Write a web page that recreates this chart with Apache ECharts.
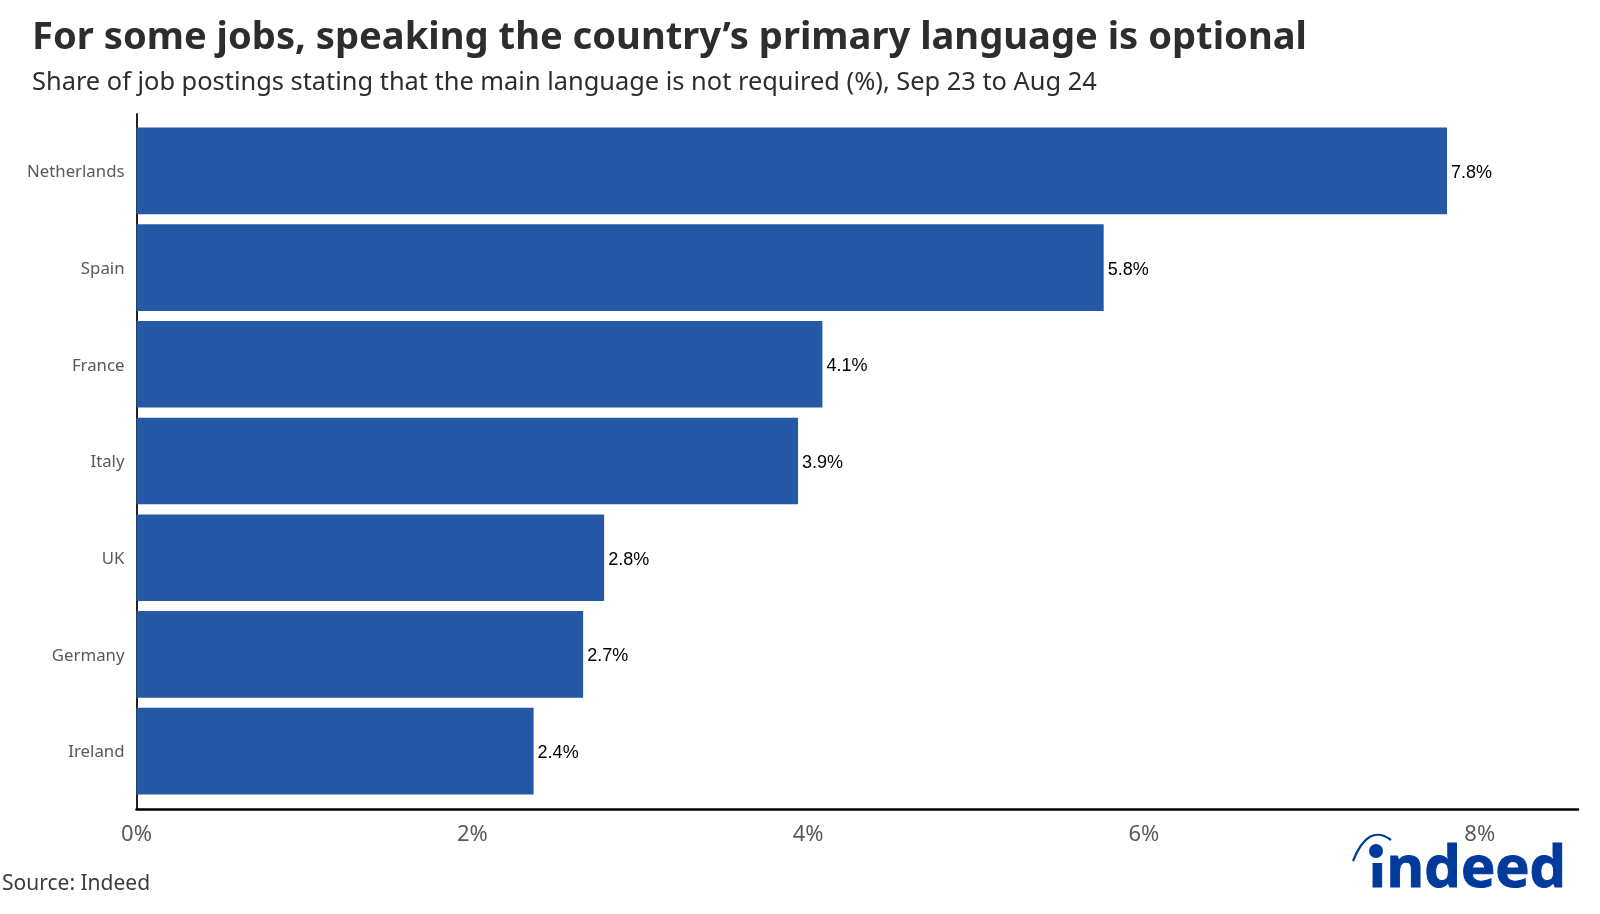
<!DOCTYPE html>
<html><head><meta charset="utf-8">
<style>html,body{margin:0;padding:0;background:#fff}#c{width:1600px;height:914px}</style>
<script src="https://cdn.jsdelivr.net/npm/echarts@6/dist/echarts.min.js"></script>
</head><body><div id="c"></div>
<script>
const titleText = "For some jobs, speaking the country’s primary language is optional";
const subtitleText = "Share of job postings stating that the main language is not required (%), Sep 23 to Aug 24";
const sourceText = "Source: Indeed";
const logoText = "indeed";
const categories = ["Netherlands","Spain","France","Italy","UK","Germany","Ireland"];
const shares = [7.805,5.76,4.085,3.94,2.785,2.66,2.365];
const xMax = 8.585;
const chart = echarts.init(document.getElementById('c'), null, {renderer:'canvas'});
const font = '"Noto Sans"';
chart.setOption({
  animation:false,
  backgroundColor:'#fff',
  title:[
    {text:titleText,left:32,top:12,padding:0,textStyle:{fontFamily:font,fontWeight:700,fontSize:38.15,color:'#2d2d2d',lineHeight:52}},
    {text:subtitleText,left:32,top:64.5,padding:0,textStyle:{fontFamily:font,fontWeight:400,fontSize:25.4,color:'#2d2d2d',lineHeight:36}},
    {text:sourceText,left:2,top:869,padding:0,textStyle:{fontFamily:font,fontWeight:400,fontSize:21,color:'#3c3c3c',lineHeight:30}}
  ],
  grid:[
    {left:136.5,top:122.5,width:1441.5,height:677},
    {left:136.5,top:114,width:1441.5,height:695}
  ],
  xAxis:[
    {type:'value',gridIndex:0,min:0,max:xMax,interval:2,splitLine:{show:false},axisLine:{show:false},axisTick:{show:false},
     axisLabel:{margin:24,fontFamily:font,fontSize:22,color:'#595959',formatter:v=>v+'%',showMaxLabel:false}},
    {type:'value',gridIndex:1,min:0,max:1,splitLine:{show:false},axisLabel:{show:false},axisTick:{show:false},
     axisLine:{show:true,onZero:false,lineStyle:{color:'#000',width:2.5}}}
  ],
  yAxis:[
    {type:'category',gridIndex:0,inverse:true,data:categories,axisLine:{show:false},axisTick:{show:false},
     axisLabel:{margin:12,formatter:v=>'{a|'+v+'}',
       rich:{a:{fontFamily:font,fontSize:16.8,color:'#595959',padding:[3,0,0,0]}}}},
    {type:'value',gridIndex:1,min:0,max:1,splitLine:{show:false},axisLabel:{show:false},axisTick:{show:false},
     axisLine:{show:true,onZero:false,lineStyle:{color:'#222',width:2}}}
  ],
  series:[{
    type:'bar',xAxisIndex:0,yAxisIndex:0,data:shares,barCategoryGap:'10.4%',
    itemStyle:{color:'#2558a5'},
    label:{show:true,position:'right',distance:4,offset:[0,2],fontFamily:'"Liberation Sans"',fontSize:18,color:'#000',
      formatter:p=>p.value.toFixed(1)+'%'}
  }],
  graphic:[
    {type:'text',left:1368,top:841,z:10,style:{text:logoText,fontFamily:'"Open Sans"',fontWeight:700,fontSize:58,fill:'#003a9b',stroke:'#003a9b',lineWidth:1}},
    {type:'rect',z:11,shape:{x:1362,y:835,width:27,height:28},style:{fill:'#fff'}},
    {type:'circle',z:12,shape:{cx:1376,cy:851,r:7},style:{fill:'#003a9b'}},
    {type:'bezierCurve',z:12,shape:{x1:1353,y1:861,cpx1:1368,cpy1:823,x2:1391,y2:840},style:{stroke:'#003a9b',lineWidth:2.2,fill:null}}
  ]
});
</script></body></html>
